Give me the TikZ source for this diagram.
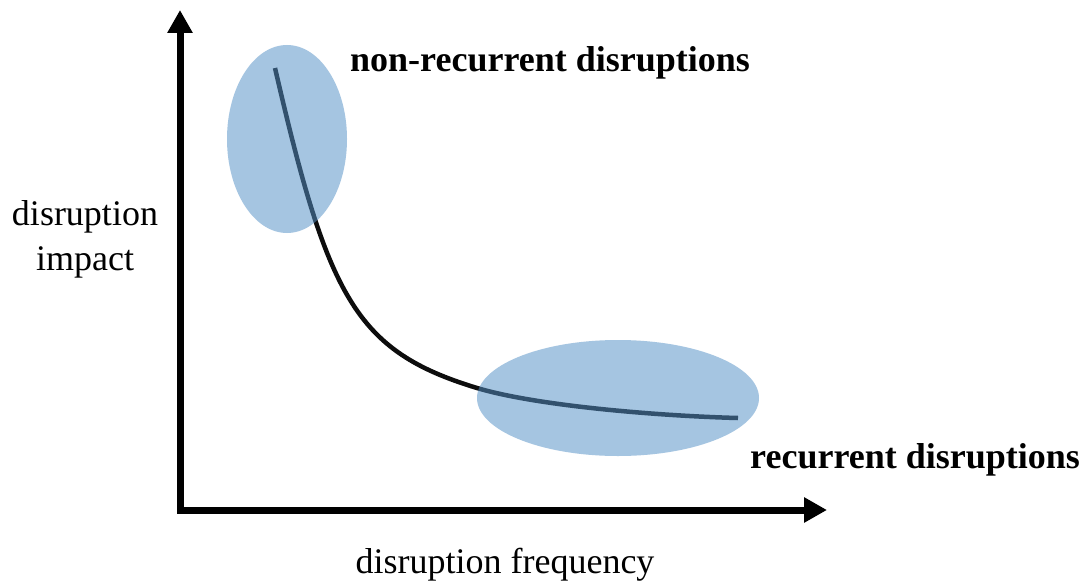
\documentclass[tikz,border=0pt]{standalone}
\usepackage{fontspec}
\setmainfont{Liberation Serif}
\usetikzlibrary{arrows.meta}
\definecolor{blobblue}{RGB}{84,144,198}
\begin{document}
\begin{tikzpicture}[x=1pt,y=-1pt,
  axis/.style={line width=7pt,line join=miter,
    {Triangle[length=23pt,width=24pt]}-{Triangle[length=23pt,width=24pt]}},
  curveline/.style={line width=4.5pt,color=black!95},
  blob/.style={fill=blobblue,fill opacity=0.52},
  lbl/.style={inner sep=0pt,font=\fontsize{36}{45}\selectfont},
  boldlbl/.style={lbl,font=\fontsize{36}{45}\selectfont\bfseries}]
\useasboundingbox (0,0) rectangle (1091,583);
\fill[white] (0,0) rectangle (1091,583);
\coordinate (ytip) at (180,10);
\coordinate (origin) at (180,510);
\coordinate (xtip) at (827,510);
\draw[axis] (ytip) -- (origin) -- (xtip);
\coordinate (cstart) at (275,68);
\coordinate (cknee) at (477,388);
\coordinate (cend) at (738,418);
\draw[curveline] (cstart) .. controls (328,297) and (355,351) .. (cknee)
  .. controls (537,406) and (660,416) .. (cend);
\fill[blob] (287,139) ellipse [x radius=60, y radius=94];
\fill[blob] (618,398) ellipse [x radius=141, y radius=58];
\node[boldlbl,anchor=base west] (nonrec) at (350,72) {non-recurrent disruptions};
\node[boldlbl,anchor=base west] (rec) at (750,468) {recurrent disruptions};
\node[lbl,anchor=north,align=center] (ylabel) at (85,200) {disruption\\impact};
\node[lbl,anchor=base] (xlabel) at (505,573) {disruption frequency};
\end{tikzpicture}
\end{document}
